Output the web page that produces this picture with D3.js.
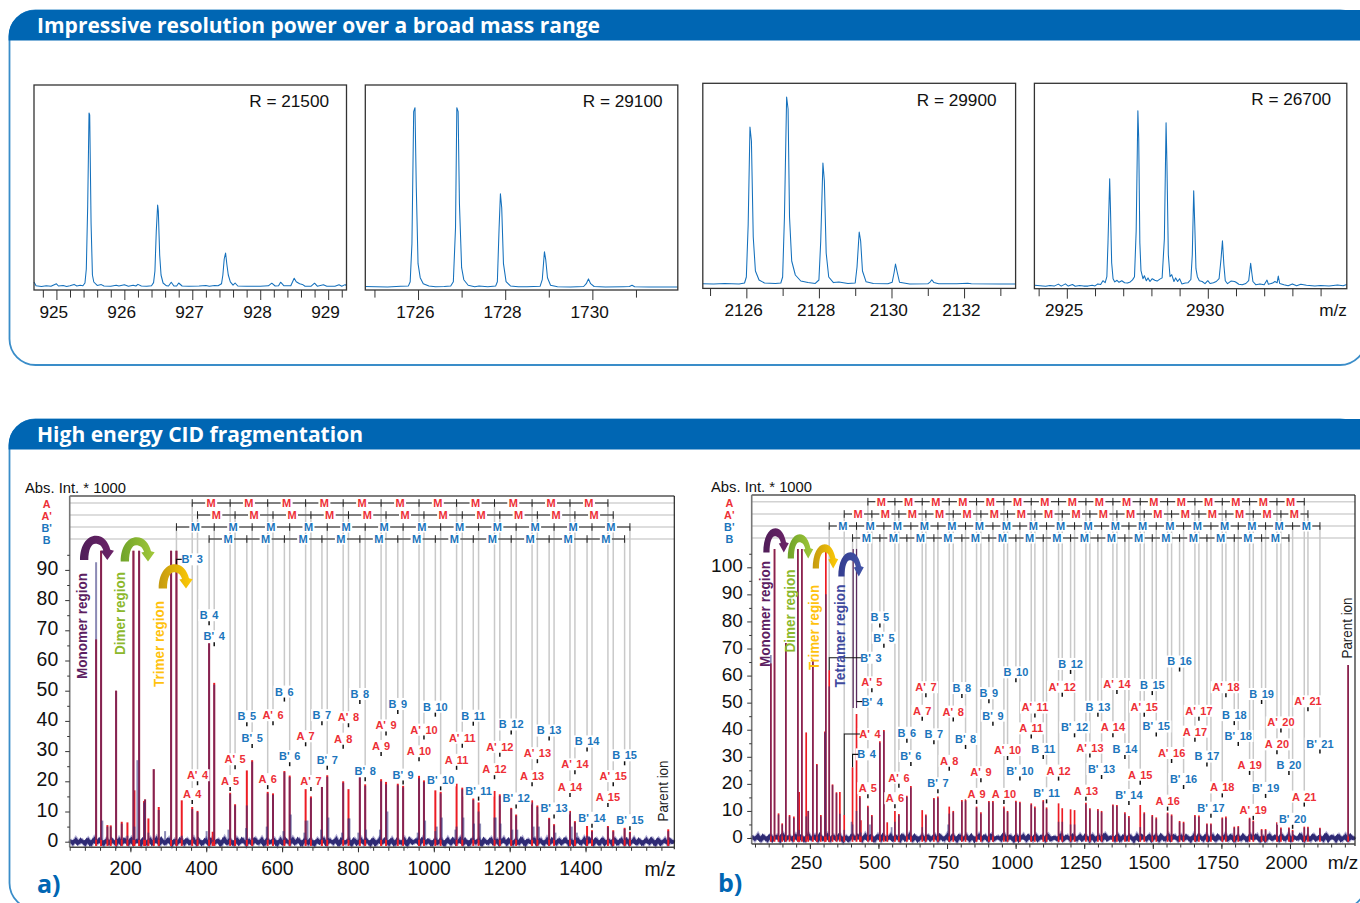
<!DOCTYPE html>
<html>
<head>
<meta charset="utf-8">
<script src="https://cdn.jsdelivr.net/npm/d3@7"></script>
<style>
  body { margin: 0; background: #fff; }
  svg { display: block; }
  text { font-family: "Liberation Sans", Arial, sans-serif; }
</style>
</head>
<body>
<svg id="chart" width="1360" height="903"></svg>
<script>
// ---- resolution spectra, pairs of m/z and intensity ----
const spec1 = [[924.67,2.5],[924.7,.6],[924.78,.3],[924.85,.6],[924.92,.4],[925,1.6],[925.03,.5],[925.1,.7],[925.15,.3],[925.2,.6],[925.26,1.3],[925.3,.5],[925.35,.9],[925.39,.6],
  [925.42,2],[925.44,9],[925.46,40],[925.48,87],[925.49,86],[925.51,32],[925.53,6],[925.55,2.5],[925.6,.8],[925.66,1.2],[925.7,.5],[925.8,.4],[925.88,.9],[925.92,.5],[926,1.1],[926.06,.4],[926.13,.9],[926.17,.5],[926.2,1.3],[926.25,.5],[926.33,.4],[926.4,.6],
  [926.43,2.2],[926.45,8],[926.47,28],[926.49,41],[926.5,38],[926.52,16],[926.54,6],[926.57,2],[926.62,.6],[926.65,.5],[926.69,2.4],[926.73,.5],[926.77,.5],[926.8,2],[926.85,.5],[926.95,.4],[927.1,.5],[927.2,.8],[927.25,.4],[927.33,.7],[927.38,.6],
  [927.43,1.6],[927.45,6],[927.47,14],[927.49,17],[927.51,11],[927.53,6],[927.56,2.6],[927.6,.9],[927.63,2],[927.67,.5],[927.8,.4],[928,.4],[928.12,.6],[928.17,1.9],[928.22,.5],[928.27,.6],[928.3,2.4],[928.35,.6],[928.45,.6],[928.5,4.4],[928.53,2.6],[928.58,1.6],[928.62,1.3],[928.66,.4],[928.75,.4],[928.8,1.9],[928.84,.4],[928.93,1.1],[928.98,.4],[929.1,.4],[929.16,1.1],[929.2,.4],[929.25,1.2],[929.27,.6]];
const spec2 = [[1724.79,.6],[1725.3,.4],[1725.6,.7],[1725.78,.9],[1725.82,3],[1725.86,22],[1725.9,88],[1725.93,90],[1725.96,50],[1726,12],[1726.05,5],[1726.12,2],[1726.25,.8],[1726.4,.5],[1726.6,.6],[1726.75,.8],
  [1726.81,3],[1726.86,30],[1726.89,90],[1726.92,88],[1726.95,42],[1727,10],[1727.05,4],[1727.15,1.2],[1727.3,.5],[1727.4,.9],[1727.6,.5],[1727.78,.8],
  [1727.82,3],[1727.86,30],[1727.89,47],[1727.92,40],[1727.96,12],[1728.02,3],[1728.12,.9],[1728.3,.5],[1728.5,.5],[1728.8,.7],[1728.85,4],[1728.9,18],[1728.93,14],[1728.97,5],[1729.04,1.2],[1729.2,.5],[1729.5,.4],[1729.8,.6],[1729.86,2],[1729.91,4.4],[1729.96,2],[1730.04,.6],[1730.3,.3],[1730.7,.5],[1730.85,.6],[1730.91,1.2],[1730.97,.5],[1731.3,.4],[1731.96,.4]];
const spec3 = [[2124.8,.6],[2125.1,.5],[2125.4,.7],[2125.8,.5],[2125.95,1],[2126,4],[2126.05,30],[2126.1,79],[2126.14,72],[2126.19,24],[2126.25,7],[2126.35,2.5],[2126.5,1],[2126.65,.9],[2126.8,.7],[2126.95,1],
  [2127,4],[2127.05,34],[2127.11,94],[2127.15,88],[2127.19,34],[2127.25,12],[2127.35,5],[2127.5,2],[2127.7,1.2],[2127.9,.8],[2128,2.5],[2128.05,22],[2128.11,61],[2128.15,52],[2128.2,16],[2128.27,4],[2128.4,1.2],[2128.55,1.5],[2128.8,.7],[2129,1],[2129.05,9],[2129.11,26.5],[2129.15,22],[2129.2,7],[2129.3,1.6],[2129.5,.8],[2129.9,.6],[2130.02,1.4],[2130.07,6],[2130.11,10.5],[2130.15,7],[2130.22,1.4],[2130.5,.5],[2131,.6],[2131.07,1.6],[2131.11,2.6],[2131.17,1.2],[2131.3,.6],[2131.8,.6],[2132.1,.9],[2132.2,.6],[2133,.5],[2133.42,.5]];
const spec4 = [[2923.86,.7],[2924.25,.2],[2924.4,.6],[2924.55,.3],[2924.7,1.3],[2924.8,.3],[2924.95,1.4],[2925.05,.3],[2925.2,1.1],[2925.3,.2],[2925.45,.6],[2925.6,.3],[2925.75,.3],[2925.9,.7],[2926,.4],[2926.1,1.4],[2926.2,1.1],[2926.28,3],[2926.36,2],[2926.42,5],
  [2926.46,22],[2926.52,54],[2926.55,38],[2926.59,12],[2926.64,4],[2926.7,2.4],[2926.78,3.2],[2926.85,2.2],[2926.95,3],[2927.05,2],[2927.15,1.8],[2927.25,2.4],[2927.33,3.4],[2927.4,5],
  [2927.46,28],[2927.52,88],[2927.55,74],[2927.59,22],[2927.63,8],[2927.7,4],[2927.75,5.5],[2927.82,3],[2927.88,4.4],[2927.95,2.6],[2928.03,4],[2928.12,3.2],[2928.2,2.8],[2928.3,3.8],[2928.38,4.4],
  [2928.46,24],[2928.52,82],[2928.55,62],[2928.6,16],[2928.66,5],[2928.72,6],[2928.8,2.6],[2928.86,4.4],[2928.93,2.6],[2929,4],[2929.08,1.4],[2929.2,1.8],[2929.3,2],[2929.4,3.6],
  [2929.45,16],[2929.5,48],[2929.54,30],[2929.58,9],[2929.63,5],[2929.7,3],[2929.8,2.6],[2929.9,1.5],[2930,3],[2930.08,1.6],[2930.2,2],[2930.3,2.6],[2930.4,4],[2930.47,14],[2930.52,23],[2930.57,11],[2930.62,3],[2930.7,1.5],[2930.82,2.8],[2930.95,2.6],[2931,2.2],[2931.1,1.2],[2931.22,1],[2931.35,1.6],[2931.45,3],[2931.52,11.7],[2931.56,7],[2931.6,2.6],[2931.7,1],[2931.85,1.4],[2932,1],[2932.1,3.3],[2932.15,1.2],[2932.3,1.8],[2932.38,2.6],[2932.46,2],[2932.5,5.3],[2932.55,1.6],[2932.7,1],[2932.85,.5],[2933,1.4],[2933.15,.5],[2933.3,1.2],[2933.5,.7],[2933.8,.3],[2934,.6],[2934.3,.4],[2934.6,.9],[2934.8,.5],[2934.93,1.1]];

const ticks1Major = [925, 926, 927, 928, 929];
const ticks1Minor = [924.8, 925.2, 925.4, 925.6, 925.8, 926.2, 926.4, 926.6, 926.8, 927.2, 927.4, 927.6, 927.8, 928.2, 928.4, 928.6, 928.8, 929.2];
const ticks2Major = [1726, 1728, 1730];
const ticks2Minor = [1725, 1727, 1729, 1731];
const ticks3Major = [2126, 2128, 2130, 2132];
const ticks3Minor = [2125, 2127, 2129, 2131, 2133];
const ticks4Major = [2925, 2930];
const ticks4Minor = [2924, 2926, 2927, 2928, 2929, 2931, 2932, 2933, 2934];
const resolutions = ["R = 21500", "R = 29100", "R = 29900", "R = 26700"];

// ---- panel a) ----
const aAmz = [363,463,562,662,761,861,961,1060,1160,1259,1359,1459];
const aAred = [11.5,16.2,16.5,17.4,20,20.7,21.8,19.2,16.8,13.7,10.2,5.2];
const aAblue = [10.8,15.8,16,7,19.5,20,21,5,8,13,9.8,4.8];
const aAlevel = [12.5,16.8,17.4,31.6,30.8,28.4,26.6,23.8,20.7,18.4,14.8,11.5];
const aA1mz = [377,476,576,676,775,874,974,1075,1174,1273,1372,1473];
const aA1red = [10.2,12.4,16,15,17.4,19.8,20.3,17.9,15.7,12,6.8,3.8];
const aA1blue = [9.8,12,15.5,14.5,7.7,19,19.8,17.4,15.2,11.5,6.4,3.4];
const aA1level = [18.7,24,38.6,16.8,37.9,35.2,33.8,31.1,28.1,26,22.3,18.4];
const aB1mz = [321.4,421,521,620,719,819,919,1018,1118,1217,1317,1417,1517];
const aB1red = [96.3,52.6,27,21.9,22,19,18.5,16.5,13,9,5.8,3.8,3.3];
const aB1blue = [96.3,52,26.5,21.4,21.5,18.5,18,16,10,8.6,5.4,3.4,3];
const aB1level = [91.8,64.7,31,25,23.8,20,18.9,17,13.6,11,7.7,4.6,3.8];
const aBmz = [407.5,507,606,705,805,905,1004,1104,1204,1304,1404,1503];
const aBred = [65.7,23.6,23.4,21.6,22.3,19.2,17,14.3,11.2,7.9,5.2,4.6];
const aBblue = [65.7,12,23,21,21.8,18.7,3.5,13.8,10.8,7.5,2,4.2];
const aBlevel = [71.7,38.2,46.4,38.6,45.6,42.3,41.4,38.4,35.5,33.5,29.9,25.3];
// low mass peaks, small side peaks and the parent ion, not part of a ladder
const aOtherMz = [109.6,122.7,126,139.4,148.2,162.3,177.2,192.2,208,210.6,218.5,223,236.1,238.7,247.5,261.6,274.8,291.5,307.3,335.4,401,417,458.5,505,559.5,603.5,622.8,658.8,666.7,702.8,722,758,777.5,801,821.4,858,877.6,957.6,977,1007.7,1021,1057,1078,1106,1122,1163,1176,1207,1220,1263,1277,1320.5,1363.6,1377,1618];
const aOtherRed = [67,96.3,0,5.5,5.4,50,6.6,6.4,96.3,17,0,96.3,13.5,14,7.7,24,11.5,0,96.3,13.7,0,3.3,0,0,0,0,0,0,0,0,0,0,0,0,0,0,0,0,0,0,0,0,0,0,0,0,0,0,0,0,0,0,0,0,4.1];
const aOtherBlue = [92.5,96.3,7,5,5,50,6,2,96.3,5,27,96.3,13,14,3,24,10.5,3.5,96.3,2,3.5,0,4,4.5,5,3.5,9,3,7,4,8,3,7.7,3,4,4,10,3,7,5,8,4,8,6,6,8,6,4,4,5,5,3,5,3,3.5];
const aNoise = [.6,-.7,.9,-.4,.3,-1,.7,-.8,1.1,-.3,.5,-.9,.8,-.6,.2,-1.1,.9,-.5,.6,-.8,1,-.2,.4,-1,.7,-.7,.9,-.4,1.2,-.9,.3,-.6,.8,-1.1,.5,-.3,.9,-.8,.6,-.5,1,-.9,.2,-.7,.7,-1,.8,-.4,.5,-.8,1.1,-.6,.3,-.9,.9,-.3,.6,-1.1,.4,-.7,.8,-.5,1,-.8,.5,-.2,.7,-1,.9,-.6,.3,-.8,1,-.4,.6,-.9,.8,-.7,.4,-1,.7,-.3,.9,-.8,.5,-.6,1.1,-.9,.2,-.5,.8,-1,.6,-.4,.9,-.7,.3,-1.1,.7,-.6,1,-.3,.5,-.9,.8,-.8,.4,-.5,.9,-1,.6,-.2,.7,-.8,1,-.6,.3,-.9,.8,-.4,.5,-1,.9,-.7,.6,-.3,1.1,-.8,.2,-.9,.7,-.5,.8,-1,.4,-.6,.9,-.7,.5,-.4,1,-.9,.3,-.8,.7,-.6,.9,-1.1,.5,-.3,.8,-.7,.6,-.9,1,-.5,.4,-.8,.7,-.4,.9,-1,.3,-.6,.8,-.7,1.1,-.5,.5,-.9,.6,-.8,.9,-.3,.4,-1,.7,-.6,.8,-.9,.5,-.4,1,-.7,.3,-.8,.9,-.6,.6,-1,.7,-.5,.8,-.8,.4,-.3];

// ---- panel b) ----
const bAmz = [461.5,560,659.5,758,857.6,957.3,1056.9,1156.5,1256.2,1354.6,1454.2,1553.9,1653.5,1753.2,1852.8,1952.5,2052.1];
const bAred = [11.9,10,10.3,11.6,11.6,11.6,12.8,12.8,13,12.4,12.2,9.4,8.5,7.6,7.5,5.8,4.2];
const bAblue = [11.4,6,4,9,11.2,11,12.3,6,12.5,12,4,9,8,7.2,7,5.4,3.8];
const bAlevel = [14.7,11,43.3,24.8,12.6,12.6,36.8,21.2,13.8,37.2,19.7,10.1,35.6,15,23.3,30.9,11.6];
const bA1mz = [375.2,476,574.5,672.9,772.6,873.4,970.6,1070.2,1169.9,1270.7,1369.2,1468.8,1568.5,1668.1,1766.5,1866.2,1967,2065.5];
const bA1red = [8.5,8.5,8.9,8.7,10,9.5,10,11.6,11,11,12.2,9.5,8.7,8.3,7.9,6.4,3.9,4.2];
const bA1blue = [3,8,8.4,8.2,9.5,9,9.5,11.1,6,10.5,11.7,9,8.2,7.8,7.4,6,3.4,3.8];
const bA1level = [8.5,53.8,18.6,52,43,20.6,28.8,44.5,52.2,29.7,53.2,44.8,27.7,43.3,52,6.7,39,46.8];
const bB1mz = [320.5,420.1,519.8,618.2,716.7,817.5,917.2,1015.6,1112.8,1214.8,1313.3,1412.9,1512.6,1612.2,1711.9,1811.5,1911.1,2009.6,2109.2];
const bB1red = [62,45.8,39.9,19.2,15.3,14.3,13.7,13.4,11.3,10.3,10,8.1,7.6,6,5.4,4.4,3.3,3,3.8];
const bB1blue = [56,10,39.4,18.7,14.8,13.8,13.2,12.9,10.8,5,9.5,7.6,7.1,5.5,5,4,2.9,2.6,3.4];
const bB1level = [62,50.4,70.3,26.6,16.5,32.9,41.5,21.2,12.8,37.2,21.8,12.2,37.5,18.1,7.5,34,14.8,3.4,31.2];
const bBmz = [405.6,505.2,603.6,702.1,804.1,902.6,1001,1100.6,1200.3,1299.9,1398.3,1498,1597.6,1697.3,1796.9,1896.6,1996.2];
const bBred = [26.1,35.7,15.6,14.8,14,13.7,13.8,14,10.6,10.7,9.5,8.5,6.3,5.4,4.2,3.3,3.9];
const bBblue = [5,35.2,15.1,14.3,13.5,13.2,13.3,13.5,5,10.2,9,8,5.8,5,3.8,2.9,3.5];
const bBlevel = [26.1,77.8,35.2,34.6,51.7,49.8,57.5,29.2,60.6,44.8,29.2,52.8,61.5,26.4,41.7,49.5,23.3];
const bOtherMz = [107.8,121.2,135.8,149.2,162.5,175.9,191.7,206.3,211,220.9,236.6,244,261,275.5,290,304.7,308.3,332.6,347,359.4,402,432.3,436,469,532,548,754,2212];
const bOtherRed = [64.5,106.8,9.1,5.4,72,8.5,7.9,106.8,17,106.8,39,10,65.8,27.3,8.5,39.3,106.8,19.8,16.9,17,0,15.5,6.6,0,5.8,0,0,63.9];
const bOtherBlue = [67.6,106.8,8.6,5,72,8,7.4,106.8,3,106.8,8,10,65.8,27,8,39,90,19.5,16.5,9,6,15,2,5,1,4,5,63.9];
// the tetramer pair is only visible above the B' 4 bracket
const bFloatMz = [408, 420.1];
const bFloatLow = [48, 48];
const bFloatHigh = [106.8, 106.8];
const bNoise = [.8,-.6,1.1,-.9,.4,-1,.9,-.3,.7,-1.1,1.2,-.5,.6,-.8,1,-.7,.3,-.9,1.3,-.4,.8,-1,.5,-.6,1.1,-.8,.7,-.5,.9,-1.2,.4,-.7,1,-.3,.8,-.9,1.2,-.6,.5,-1,.9,-.8,.6,-.4,1.1,-.7,.3,-1.1,.8,-.5,1.3,-.9,.4,-.6,1,-.8,.7,-.3,.9,-1,.5,-.7,1.2,-.5,.6,-1.1,.8,-.4,1,-.9,.3,-.6,1.1,-.7,.7,-1,.9,-.5,.4,-.8,1.2,-.6,.6,-1.1,.8,-.3,1,-.9,.5,-.7,1.1,-.4,.7,-1,.9,-.6,.3,-.8,1.3,-.5,.6,-1,.8,-.7,1,-.4,.5,-1.1,.9,-.6,.7,-.8,1.2,-.3,.4,-.9,1,-.7,.8,-.5,.6,-1.2,1.1,-.4,.3,-.8,.9,-.6,1,-1,.5,-.7,1.2,-.3,.7,-.9,.8,-.5,.4,-1.1,1,-.6,.6,-.8,1.1,-.4,.9,-.9,.3,-.7,1.2,-.5,.7,-1,.8,-.6,.5,-.8,1,-.3,.9,-1.1,.4,-.7,1.1,-.5,.6,-.9,.8,-.6,1.3,-.8,.3,-.4,1,-1,.7,-.7,.9,-.5,.5,-.9,1.2,-.3,.6,-1.1,.8,-.6,1,-.8,.4,-.5];

const blue = "#0066b3";
const ionRed = "#ed2f36";
const ionBlue = "#1b75bc";
const svg = d3.select("#chart");
const defs = svg.append("defs");

function panelFrame(top, bottom, title, titleWidth) {
  svg.append("rect")
    .attr("x", 9.5).attr("y", top).attr("width", 1356.5).attr("height", bottom - top)
    .attr("rx", 26).attr("ry", 26)
    .attr("fill", "none").attr("stroke", "#3a8dc9").attr("stroke-width", 1.8);
  svg.append("path")
    .attr("d", `M8.6,${top + 30} V${top + 26} A26,26 0 0 1 35,${top - .5} H1360 V${top + 30} Z`)
    .attr("fill", blue);
  svg.append("text")
    .attr("x", 37).attr("y", top + 22.5)
    .attr("textLength", titleWidth).attr("lengthAdjust", "spacingAndGlyphs")
    .style("font-family", "'Open Sans', sans-serif")
    .style("font-weight", 700).style("font-size", "21px")
    .attr("fill", "#fff").text(title);
}
panelFrame(10.5, 365, "Impressive resolution power over a broad mass range", 563);
panelFrame(419.5, 909, "High energy CID fragmentation", 326);

// ---- small resolution plots ----
function resolutionPlot(o) {
  const x = d3.scaleLinear().domain(o.domain).range([o.left, o.right]);
  const y = d3.scaleLinear().domain([0, 100]).range([o.base, o.base - 200]);
  const g = svg.append("g");
  const line = d3.line().x(d => x(d[0])).y(d => y(d[1]));
  g.append("path").datum(o.data).attr("d", line)
    .attr("fill", "none").attr("stroke", "#1470bc").attr("stroke-width", 1.05)
    .attr("stroke-linejoin", "round");
  g.append("rect")
    .attr("x", o.left).attr("y", o.top)
    .attr("width", o.right - o.left).attr("height", o.bottom - o.top)
    .attr("fill", "none").attr("stroke", "#333").attr("stroke-width", 1.3);
  const minor = g.append("g").attr("transform", `translate(0,${o.bottom})`)
    .call(d3.axisBottom(x).tickValues(o.minor).tickSize(7.6).tickFormat(""));
  minor.select(".domain").remove();
  const major = g.append("g").attr("transform", `translate(0,${o.bottom})`)
    .call(d3.axisBottom(x).tickValues(o.major).tickSize(10).tickPadding(5.6).tickFormat(d3.format("d")));
  major.select(".domain").remove();
  major.selectAll("text").attr("dx", -3.2)
    .style("font-size", "17.2px").style("font-family", "'Liberation Sans', Arial, sans-serif").attr("fill", "#111");
  g.selectAll(".tick line").attr("stroke", "#333").attr("stroke-width", 1);
  g.append("text").attr("x", o.rx).attr("y", o.ry).attr("dy", ".35em")
    .attr("text-anchor", "end").style("font-size", "17.2px").attr("fill", "#111").text(o.label);
}
resolutionPlot({ data: spec1, domain: [924.67, 929.27], left: 34, right: 346.5, top: 85, bottom: 290, base: 287, major: ticks1Major, minor: ticks1Minor, label: resolutions[0], rx: 329, ry: 100.5 });
resolutionPlot({ data: spec2, domain: [1724.79, 1731.96], left: 365.3, right: 677.8, top: 85, bottom: 290, base: 287.7, major: ticks2Major, minor: ticks2Minor, label: resolutions[1], rx: 662.5, ry: 100.5 });
resolutionPlot({ data: spec3, domain: [2124.8, 2133.42], left: 702.8, right: 1015.6, top: 83.3, bottom: 288.4, base: 285, major: ticks3Major, minor: ticks3Minor, label: resolutions[2], rx: 996.5, ry: 100 });
resolutionPlot({ data: spec4, domain: [2923.85, 2934.93], left: 1034.4, right: 1346.8, top: 83.3, bottom: 288.7, base: 286.7, major: ticks4Major, minor: ticks4Minor, label: resolutions[3], rx: 1331, ry: 99 });
svg.append("text").attr("x", 1333).attr("y", 310).attr("dy", ".35em").attr("text-anchor", "middle")
  .style("font-size", "17.2px").attr("fill", "#111").text("m/z");

// ---- curved region arrows, drawn from one outline ----
function regionArrow(id, left, top, sx, sy, c0, c1) {
  const grad = defs.append("linearGradient").attr("id", id);
  grad.append("stop").attr("offset", "0%").attr("stop-color", c0);
  grad.append("stop").attr("offset", "100%").attr("stop-color", c1);
  svg.append("path")
    .attr("transform", `translate(${left},${top}) scale(${sx},${sy})`)
    .attr("d", "M0,73 C0,30 20,0 48,0 C70,0 85,18 91,42 L102,45 L82,73 L62,46 L70,44 C66,30 58,24 46,24 C34,24 25,42 25,73 Z")
    .attr("fill", `url(#${id})`);
}
function regionText(x, yMid, len, label, color) {
  svg.append("text")
    .attr("transform", `translate(${x},${yMid}) rotate(-90)`)
    .attr("text-anchor", "middle").attr("dy", ".35em")
    .attr("textLength", len).attr("lengthAdjust", "spacingAndGlyphs")
    .style("font-size", "14px").style("font-weight", 700)
    .attr("fill", color).text(label);
}

// ---- fragmentation panels ----
function fragmentPanel(o) {
  const x = d3.scaleLinear().domain(o.xDomain).range([o.left, o.right]);
  const y = d3.scaleLinear().domain([0, 100]).range([o.zero, o.zero - o.per100]);
  const g = svg.append("g");

  const ladders = [
    { name: "A", prefix: "A ", first: o.A.first, color: ionRed, row: o.rows[0], s: o.A },
    { name: "A'", prefix: "A' ", first: o.A1.first, color: ionRed, row: o.rows[1], s: o.A1 },
    { name: "B'", prefix: "B' ", first: o.B1.first, color: ionBlue, row: o.rows[2], s: o.B1 },
    { name: "B", prefix: "B ", first: o.B.first, color: ionBlue, row: o.rows[3], s: o.B }
  ];
  const ions = [];
  ladders.forEach(l => l.s.mz.forEach((m, i) => ions.push({
    label: l.prefix + (l.first + i), mz: m, red: l.s.red[i], blue: l.s.blue[i],
    level: l.s.level[i], row: l.row, color: l.color, elbow: o.elbows[l.prefix + (l.first + i)]
  })));
  const tickTop = d => d.elbow ? y(d.elbow.top) : y(d.level) - 4;

  // row guides and drop lines
  g.selectAll("line.row").data(ladders).join("line").attr("class", "row")
    .attr("x1", o.left).attr("x2", o.right).attr("y1", d => d.row).attr("y2", d => d.row)
    .attr("stroke", "#d2d2d2").attr("stroke-width", 1.5);
  g.selectAll("line.drop").data(ions).join("line").attr("class", "drop")
    .attr("x1", d => x(d.mz)).attr("x2", d => x(d.mz))
    .attr("y1", d => d.row).attr("y2", tickTop)
    .attr("stroke", "#c9c9c9").attr("stroke-width", 1.5);

  // noise floor: the trace, walked once each way so the band fills in
  const nx = d3.scaleLinear().domain([0, o.noise.length - 1]).range(o.xDomain);
  const noiseLine = d3.line().x((d, i) => x(nx(i))).y(d => y(d));
  const noiseBack = o.noise.slice().reverse();
  const noiseLine2 = d3.line().x((d, i) => x(nx(i + .5))).y(d => y(d));
  g.append("path").datum(o.noise).attr("d", noiseLine).attr("fill", "none")
    .attr("stroke", "#b4b0d6").attr("stroke-width", 4.5);
  g.append("path").datum(o.noise).attr("d", noiseLine).attr("fill", "none")
    .attr("stroke", "#2f2a74").attr("stroke-width", 2.4);
  g.append("path").datum(noiseBack.slice(0, -1)).attr("d", noiseLine2).attr("fill", "none")
    .attr("stroke", "#2f2a74").attr("stroke-width", 2.4);
  g.append("line").attr("x1", o.left).attr("x2", o.right).attr("y1", y(0)).attr("y2", y(0))
    .attr("stroke", "#2f2a74").attr("stroke-width", 3);

  // spectrum sticks: red run, then the blue run over it
  const sticks = ions.map(d => ({ mz: d.mz, red: d.red, blue: d.blue }))
    .concat(o.otherMz.map((m, i) => ({ mz: m, red: o.otherRed[i], blue: o.otherBlue[i] })));
  g.selectAll("line.red").data(sticks).join("line").attr("class", "red")
    .attr("x1", d => x(d.mz)).attr("x2", d => x(d.mz))
    .attr("y1", d => d.red > 0 ? y(-1.4) : y(0)).attr("y2", d => y(d.red))
    .attr("stroke", "#ed1c24").attr("stroke-width", o.stick);
  g.selectAll("line.blue").data(sticks).join("line").attr("class", "blue")
    .attr("x1", d => x(d.mz)).attr("x2", d => x(d.mz))
    .attr("y1", y(.6)).attr("y2", d => y(d.blue))
    .attr("stroke", "#2e2a78").attr("stroke-opacity", .55).attr("stroke-width", o.stick);
  (o.floatMz || []).forEach((m, i) => {
    g.append("line").attr("x1", x(m)).attr("x2", x(m))
      .attr("y1", y(o.floatLow[i])).attr("y2", y(o.floatHigh[i]))
      .attr("stroke", "#5a2a5e").attr("stroke-width", 1.2);
  });

  // ion labels with white boxes, ticks or elbows
  ions.forEach(d => {
    const px = x(d.mz);
    const lx = d.elbow ? px + d.elbow.dx : px;
    const ly = d.elbow ? y(d.elbow.top) : y(d.level) - 10;
    const t = g.append("text").attr("x", lx).attr("y", ly).attr("dy", ".36em")
      .attr("text-anchor", "middle").style("font-size", "11px").style("font-weight", 700)
      .style("word-spacing", "1.5px")
      .attr("fill", d.color).text(d.label);
    const w = t.node().getComputedTextLength();
    g.insert("rect", () => t.node())
      .attr("x", lx - w / 2 - 1.5).attr("y", ly - 6).attr("width", w + 3).attr("height", 12).attr("fill", "#fff");
    if (d.elbow) {
      g.append("path")
        .attr("d", `M${px},${y(d.level)} V${y(d.elbow.top)} H${px + d.elbow.arm}`)
        .attr("fill", "none").attr("stroke", "#111").attr("stroke-width", 1.1);
    } else {
      g.append("line").attr("x1", px).attr("x2", px).attr("y1", y(d.level)).attr("y2", y(d.level) - 4)
        .attr("stroke", "#111").attr("stroke-width", 1.5);
    }
  });

  // monomer ladders along the top
  ladders.forEach(l => {
    const xs = l.s.mz.map(m => x(m));
    g.append("line").attr("x1", xs[0]).attr("x2", xs[xs.length - 1]).attr("y1", l.row).attr("y2", l.row)
      .attr("stroke", "#222").attr("stroke-width", 1);
    xs.forEach(px => g.append("line").attr("x1", px).attr("x2", px).attr("y1", l.row - 3.8).attr("y2", l.row + 3.8)
      .attr("stroke", "#222").attr("stroke-width", 1));
    d3.pairs(xs).forEach(p => {
      const mid = (p[0] + p[1]) / 2;
      g.append("rect").attr("x", mid - 6).attr("y", l.row - 5).attr("width", 12).attr("height", 10.5).attr("fill", "#fff");
      g.append("text").attr("x", mid).attr("y", l.row).attr("dy", ".38em").attr("text-anchor", "middle")
        .style("font-size", "11px").style("font-weight", 700).attr("fill", l.color).text("M");
    });
    g.append("text").attr("x", o.rowLabelX).attr("y", l.row + o.rowLabelDy).attr("dy", ".36em").attr("text-anchor", "middle")
      .style("font-size", "10.8px").style("font-weight", 700).attr("fill", l.color).text(l.name);
  });

  // frame
  g.append("line").attr("x1", o.left).attr("x2", o.right).attr("y1", o.top).attr("y2", o.top)
    .attr("stroke", "#555").attr("stroke-width", 1.4);
  g.append("line").attr("x1", o.left).attr("x2", o.left).attr("y1", o.top).attr("y2", o.bottom)
    .attr("stroke", "#777").attr("stroke-width", 1.6);
  g.append("line").attr("x1", o.right).attr("x2", o.right).attr("y1", o.top).attr("y2", o.bottom + 2)
    .attr("stroke", "#222").attr("stroke-width", 1.2);
  g.append("line").attr("x1", o.left).attr("x2", o.right).attr("y1", o.bottom).attr("y2", o.bottom)
    .attr("stroke", "#444").attr("stroke-width", 1.5);

  // axes
  const xMinor = g.append("g").attr("transform", `translate(0,${o.bottom})`)
    .call(d3.axisBottom(x).tickValues(o.xMinor).tickSize(3.5).tickFormat(""));
  const xMajor = g.append("g").attr("transform", `translate(0,${o.bottom})`)
    .call(d3.axisBottom(x).tickValues(o.xMajor).tickSize(5).tickPadding(o.xPad).tickFormat(d3.format("d")));
  const yMinor = g.append("g").attr("transform", `translate(${o.left},0)`)
    .call(d3.axisLeft(y).tickValues(o.yMinor).tickSize(2.5).tickFormat(""));
  const yMajor = g.append("g").attr("transform", `translate(${o.left},0)`)
    .call(d3.axisLeft(y).tickValues(o.yMajor).tickSize(4.5).tickPadding(o.yPad).tickFormat(d3.format("d")));
  [xMinor, xMajor, yMinor, yMajor].forEach(a => {
    a.select(".domain").remove();
    a.selectAll("line").attr("stroke", "#333").attr("stroke-width", 1);
    a.selectAll("text").style("font-size", o.font + "px").style("font-family", "'Liberation Sans', Arial, sans-serif").attr("fill", "#111");
  });
  xMajor.selectAll("text").attr("dx", o.xDx);
  yMajor.selectAll("text").attr("dy", ".24em");

  g.append("text").attr("x", o.absX).attr("y", o.top - 8).attr("dy", ".35em")
    .attr("textLength", 101).attr("lengthAdjust", "spacingAndGlyphs")
    .style("font-size", "14px").attr("fill", "#111").text("Abs. Int. * 1000");
  g.append("text").attr("x", o.mzX).attr("y", o.mzY).attr("dy", ".35em").attr("text-anchor", "middle")
    .style("font-size", o.font + "px").attr("fill", "#111").text("m/z");
  g.append("text").attr("x", o.tagX).attr("y", o.tagY).attr("dy", ".35em")
    .style("font-size", "25px").style("font-weight", 700).style("font-family", "'Open Sans', sans-serif")
    .attr("fill", blue).text(o.tag);
  g.append("text").attr("transform", `translate(${o.parentX},${o.parentY}) rotate(-90)`)
    .attr("text-anchor", "middle").attr("dy", ".35em")
    .attr("textLength", 61).attr("lengthAdjust", "spacingAndGlyphs")
    .style("font-size", "15px").attr("fill", "#222").text("Parent ion");
}

fragmentPanel({
  xDomain: [40, 1634], left: 69.7, right: 674.3, top: 496, bottom: 847.3, zero: 841.7, per100: 302,
  rows: [503, 515, 527, 539], rowLabelX: 46.7, rowLabelDy: 1,
  A: { first: 4, mz: aAmz, red: aAred, blue: aAblue, level: aAlevel },
  A1: { first: 4, mz: aA1mz, red: aA1red, blue: aA1blue, level: aA1level },
  B1: { first: 3, mz: aB1mz, red: aB1red, blue: aB1blue, level: aB1level },
  B: { first: 4, mz: aBmz, red: aBred, blue: aBblue, level: aBlevel },
  elbows: { "B' 3": { top: 93.5, arm: 5.3, dx: 15.7 } },
  otherMz: aOtherMz, otherRed: aOtherRed, otherBlue: aOtherBlue, noise: aNoise, stick: 2,
  xMajor: d3.range(200, 1500, 200), xMinor: d3.range(40, 1634, 40),
  yMajor: d3.range(0, 100, 10), yMinor: d3.range(5, 100, 10),
  font: 19.4, xPad: 9.4, xDx: -5.2, yPad: 7, absX: 25, mzX: 660, mzY: 869,
  tag: "a)", tagX: 37, tagY: 884, parentX: 662.7, parentY: 791
});

fragmentPanel({
  xDomain: [38, 2237], left: 751.7, right: 1355, top: 495, bottom: 844, zero: 838, per100: 270.7,
  rows: [501.7, 514, 526, 538], rowLabelX: 729.3, rowLabelDy: 1,
  A: { first: 5, mz: bAmz, red: bAred, blue: bAblue, level: bAlevel },
  A1: { first: 4, mz: bA1mz, red: bA1red, blue: bA1blue, level: bA1level },
  B1: { first: 3, mz: bB1mz, red: bB1red, blue: bB1blue, level: bB1level },
  B: { first: 4, mz: bBmz, red: bBred, blue: bBblue, level: bBlevel },
  elbows: {
    "A' 4": { top: 38.4, arm: 15.7, dx: 25.7 },
    "B 4": { top: 30.9, arm: 5.7, dx: 14 },
    "B' 4": { top: 50.4, arm: 5.7, dx: 15.7 },
    "B' 3": { top: 66.6, arm: 31.7, dx: 41.7 }
  },
  otherMz: bOtherMz, otherRed: bOtherRed, otherBlue: bOtherBlue, noise: bNoise, stick: 1.7,
  floatMz: bFloatMz, floatLow: bFloatLow, floatHigh: bFloatHigh,
  xMajor: d3.range(250, 2100, 250), xMinor: d3.range(50, 2237, 50),
  yMajor: d3.range(0, 110, 10), yMinor: d3.range(5, 110, 10),
  font: 19, xPad: 6.6, xDx: -4, yPad: 4.4, absX: 711, mzX: 1343, mzY: 862.3,
  tag: "b)", tagX: 718, tagY: 883, parentX: 1346.7, parentY: 628
});

regionArrow("arA1", 80, 535.7, .333, .333, "#4f1d58", "#6c2368");
regionArrow("arA2", 120.7, 537.3, .333, .333, "#6fa32a", "#a2c83a");
regionArrow("arA3", 158.7, 564.3, .333, .333, "#c49a10", "#ffcb05");
regionArrow("arB1", 763.3, 528.3, .25, .333, "#4f1d58", "#6c2368");
regionArrow("arB2", 787.7, 534.3, .25, .333, "#6fa32a", "#a2c83a");
regionArrow("arB3", 812.7, 544.3, .25, .333, "#c49a10", "#ffcb05");
regionArrow("arB4", 838.3, 552.3, .25, .333, "#333c8f", "#4355a8");
regionText(81.7, 626, 106, "Monomer region", "#5c2061");
regionText(120, 613.5, 83, "Dimer region", "#8cb82c");
regionText(159.3, 644, 86, "Trimer region", "#ffc20e");
regionText(765, 614, 106, "Monomer region", "#5c2061");
regionText(790, 611, 83, "Dimer region", "#8cb82c");
regionText(814.3, 627.5, 85, "Trimer region", "#ffc20e");
regionText(840, 636, 103, "Tetramer region", "#3f4a9f");
</script>
</body>
</html>
